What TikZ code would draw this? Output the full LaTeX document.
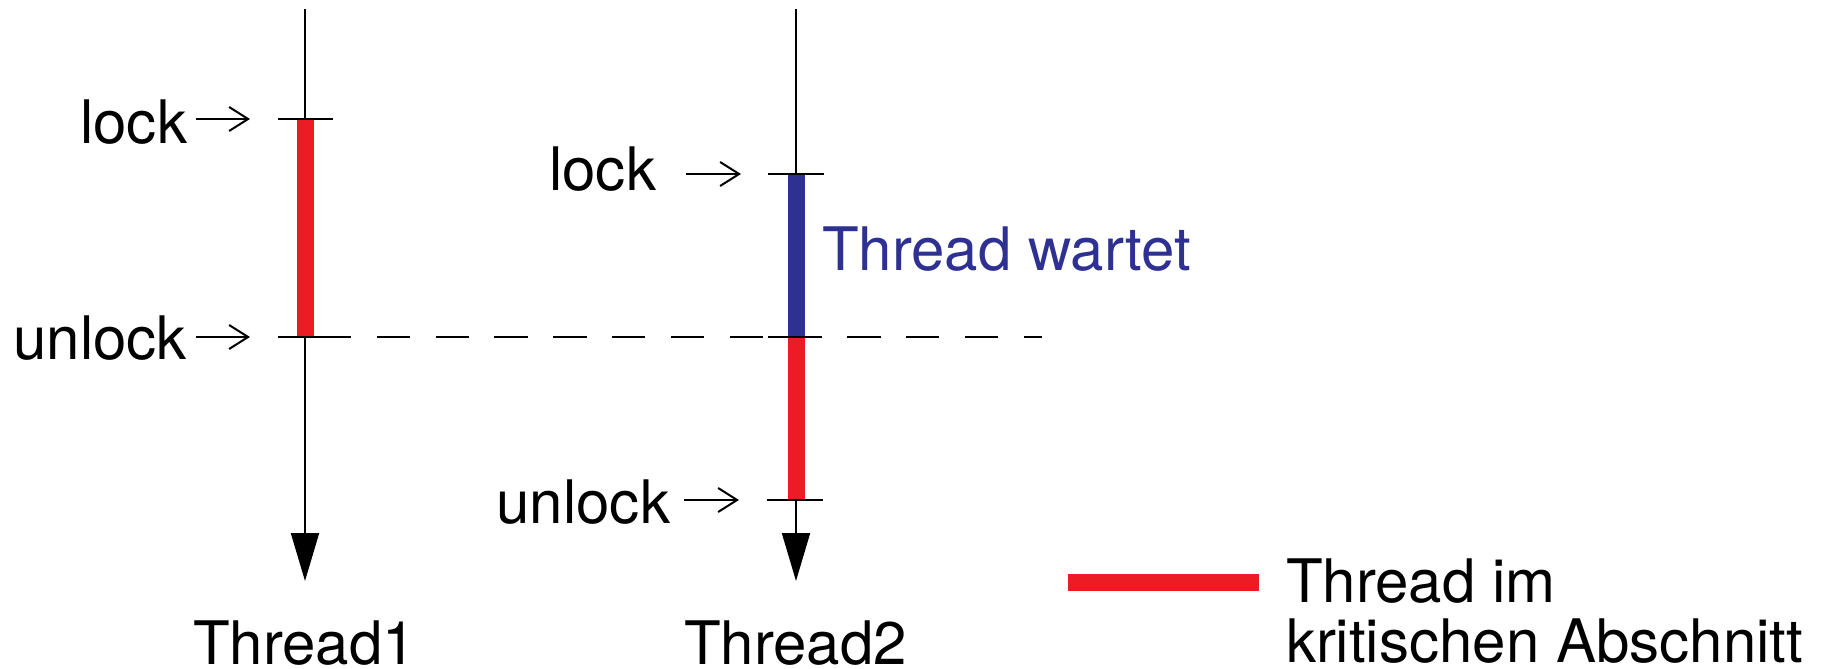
\documentclass[tikz,border=0pt]{standalone}
\usepackage{fontspec}
\setmainfont{TeX Gyre Heros}
\usetikzlibrary{arrows.meta}
\definecolor{critred}{RGB}{237,28,36}
\definecolor{waitblue}{RGB}{46,49,146}
\begin{document}
\begin{tikzpicture}[x=1pt,y=-1pt,
  lbl/.style={font=\fontsize{60}{62}\selectfont, inner sep=0pt, outer sep=0pt},
  timeline/.style={line width=2pt, -{Triangle[length=48pt,width=28pt]}},
  tickmark/.style={line width=2pt},
  ptr/.style={line width=2pt, -{Straight Barb[length=19pt,width=24pt]}},
  crit/.style={line width=17pt, draw=critred},
  waitbar/.style={line width=17pt, draw=waitblue},
  sync/.style={line width=2pt, dash pattern=on 33.4pt off 25.4pt}]
\useasboundingbox (0,0) rectangle (1823,669);
% coordinates
\coordinate (t1top) at (305,9);
\coordinate (t1end) at (305,581);
\coordinate (t1lock) at (305,119);
\coordinate (t1unlock) at (305,337);
\coordinate (t2top) at (796,9);
\coordinate (t2end) at (796,581);
\coordinate (t2lock) at (796,174);
\coordinate (t2mid) at (796,337);
\coordinate (t2unlock) at (796,500);
% timelines
\draw[timeline] (t1top) -- (t1end);
\draw[timeline] (t2top) -- (t2end);
% bars
\draw[crit] (t1lock) -- (t1unlock);
\draw[waitbar] (t2lock) -- (t2mid);
\draw[crit] (t2mid) -- (t2unlock);
% ticks
\draw[tickmark] ([xshift=-27pt]t1lock) -- ([xshift=28pt]t1lock);
\draw[tickmark] ([xshift=-27pt]t1unlock) -- ([xshift=28pt]t1unlock);
\draw[tickmark] ([xshift=-28pt]t2lock) -- ([xshift=28pt]t2lock);
\draw[tickmark] ([xshift=-28pt]t2mid) -- ([xshift=26pt]t2mid);
\draw[tickmark] ([xshift=-29pt]t2unlock) -- ([xshift=27pt]t2unlock);
% sync line
\coordinate (syncL) at (318,337);
\coordinate (syncR) at (1042,337);
\draw[sync] (syncL) -- (syncR);
% labels
\node[lbl, anchor=base east] (l1) at (187,143) {lock};
\node[lbl, anchor=base east] (u1) at (187,359) {unlock};
\node[lbl, anchor=base east] (l2) at (656,190) {lock};
\node[lbl, anchor=base east] (u2) at (670,523) {unlock};
\node[lbl, anchor=base west] (n1) at (193,664) {Thread1};
\node[lbl, anchor=base west] (n2) at (684,664) {Thread2};
\node[lbl, anchor=base west, text=waitblue] (w) at (822,270) {Thread wartet};
% pointer arrows
\coordinate (p1s) at (196,119); \coordinate (p1e) at (250,119);
\coordinate (p2s) at (196,337); \coordinate (p2e) at (250,337);
\coordinate (p3s) at (686,174); \coordinate (p3e) at (741,174);
\coordinate (p4s) at (684,500); \coordinate (p4e) at (739,500);
\draw[ptr] (p1s) -- (p1e);
\draw[ptr] (p2s) -- (p2e);
\draw[ptr] (p3s) -- (p3e);
\draw[ptr] (p4s) -- (p4e);
% legend
\coordinate (legL) at (1068,582);
\coordinate (legR) at (1259,582);
\draw[crit] (legL) -- (legR);
\node[lbl, anchor=base west] (leg1) at (1286,602) {Thread im};
\node[lbl, anchor=base west] (leg2) at (1286,662) {kritischen Abschnitt};
\end{tikzpicture}
\end{document}
